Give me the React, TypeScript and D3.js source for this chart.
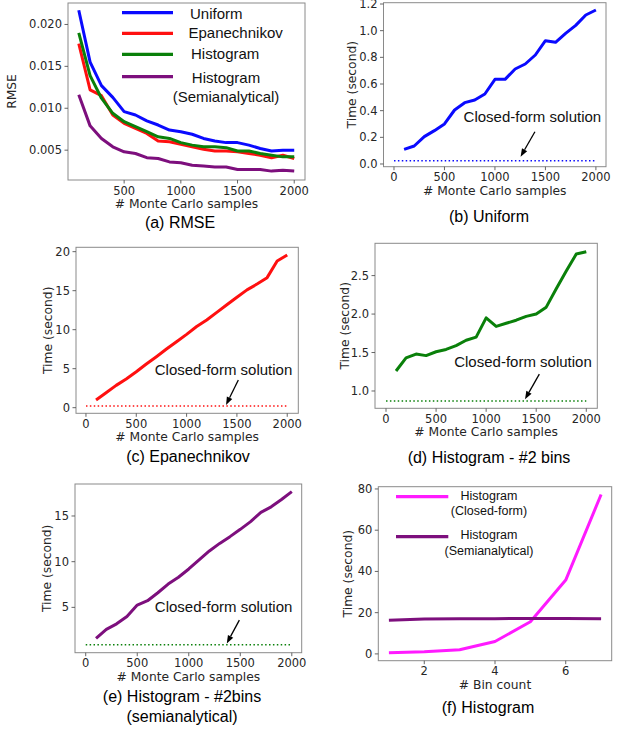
import React from "react";
import * as d3 from "d3";

// ---------- data ----------
const mcSamples = [100, 200, 300, 400, 500, 600, 700, 800, 900, 1000, 1100, 1200, 1300, 1400, 1500, 1600, 1700, 1800, 1900, 2000];
const closedRange = [0, 2000];

const rmseUniform = [0.0217, 0.0155, 0.0127, 0.0113, 0.0096, 0.0092, 0.0085, 0.008, 0.0074, 0.0072, 0.0069, 0.0064, 0.0061, 0.0059, 0.0059, 0.0056, 0.0052, 0.0049, 0.005, 0.005];
const rmseEpan = [0.0177, 0.0122, 0.0115, 0.0092, 0.0082, 0.0076, 0.007, 0.0061, 0.006, 0.0057, 0.0054, 0.0051, 0.0049, 0.0049, 0.0048, 0.0046, 0.0044, 0.0041, 0.0044, 0.004];
const rmseHist = [0.019, 0.0139, 0.0112, 0.0094, 0.0084, 0.0078, 0.0072, 0.0066, 0.0064, 0.0059, 0.0056, 0.0054, 0.0054, 0.0053, 0.0049, 0.0049, 0.0046, 0.0044, 0.0042, 0.0042];
const rmseSemi = [0.0116, 0.0079, 0.0064, 0.0054, 0.0048, 0.0046, 0.0041, 0.004, 0.0036, 0.0035, 0.0032, 0.0031, 0.003, 0.003, 0.0027, 0.0027, 0.0027, 0.0025, 0.0026, 0.0025];

const timeUniform = [0.11, 0.135, 0.205, 0.25, 0.3, 0.405, 0.46, 0.48, 0.525, 0.635, 0.635, 0.7125, 0.75, 0.8175, 0.925, 0.9125, 0.98, 1.04, 1.1175, 1.155];
const timeEpan = [0.98, 1.92, 2.86, 3.68, 4.6, 5.6, 6.54, 7.52, 8.46, 9.4, 10.4, 11.24, 12.22, 13.2, 14.15, 15.1, 15.85, 16.67, 18.8, 19.57];
const timeHist = [1.26, 1.43, 1.48, 1.46, 1.51, 1.54, 1.59, 1.66, 1.7, 1.95, 1.84, 1.88, 1.92, 1.97, 2.0, 2.09, 2.33, 2.56, 2.78, 2.81];
const timeHistSemi = [1.6, 2.6, 3.2, 4.0, 5.25, 5.73, 6.6, 7.55, 8.3, 9.2, 10.2, 11.17, 12.0, 12.74, 13.54, 14.38, 15.4, 16.0, 16.8, 17.66];

const closedUniform = 0.025;
const closedEpan = 0.2;
const closedHist = 0.87;
const closedHistSemi = 0.9;

const binCounts = [1, 2, 3, 4, 5, 6, 7];
const binTimeClosed = [0.5, 1.0, 2.0, 6.0, 15.6, 35.8, 77.3];
const binTimeSemi = [16.3, 16.9, 17.0, 17.1, 17.2, 17.2, 17.1];

const mcTicks = [500, 1000, 1500, 2000];
const mcTicks0 = [0, 500, 1000, 1500, 2000];
const rmseTicks = [0.005, 0.01, 0.015, 0.02];
const uniTicks = [0, 0.2, 0.4, 0.6, 0.8, 1.0, 1.2];
const epanTicks = [0, 5, 10, 15, 20];
const histTicks = [1.0, 1.5, 2.0, 2.5];
const semiTicks = [5, 10, 15];
const binYTicks = [0, 20, 40, 60, 80];
const binXTicks = [2, 4, 6];

// ---------- styles ----------
const TICK_FONT = "'DejaVu Sans', sans-serif";
const SANS = "'Liberation Sans', Arial, sans-serif";
const TEXT_COLOR = "#262626";

type Series = { x: number[]; y: number[]; color: string; width: number; dotted?: boolean };
type Legend = { color: string; lineX: [number, number]; lineY: number; texts: { t: string; x: number; y: number; anchor: string }[] };
type Annot = { tip: [number, number]; tail: [number, number]; text: [number, number] };

type PanelSpec = {
  id: string;
  frame: { l: number; r: number; t: number; b: number };
  xDomain: [number, number];
  yDomain: [number, number];
  xTicks: number[];
  yTicks: number[];
  yFmt: (v: number) => string;
  xFmt: (v: number) => string;
  ylabel: string;
  ylabelDx: number;
  xlabel: string;
  caption: { t: string; x: number; y: number }[];
  series: Series[];
  legend?: { size: number; items: Legend[] };
  annot?: Annot;
};

const Panel = ({ p }: { p: PanelSpec }) => {
  const { l, r, t, b } = p.frame;
  const x = d3.scaleLinear().domain(p.xDomain).range([l, r]);
  const y = d3.scaleLinear().domain(p.yDomain).range([b, t]);
  const line = d3
    .line<[number, number]>()
    .x((d) => x(d[0]))
    .y((d) => y(d[1]));
  const clipId = "clip-" + p.id;
  let arrow = null;
  if (p.annot) {
    const tx = x(p.annot.tip[0]);
    const ty = y(p.annot.tip[1]);
    const sx = x(p.annot.tail[0]);
    const sy = y(p.annot.tail[1]);
    const ang = Math.atan2(ty - sy, tx - sx);
    const hl = 8;
    const hw = 3;
    const bx = tx - hl * Math.cos(ang);
    const by = ty - hl * Math.sin(ang);
    const px = -Math.sin(ang) * hw;
    const py = Math.cos(ang) * hw;
    arrow = (
      <g>
        <line x1={sx} y1={sy} x2={bx} y2={by} stroke="#000" strokeWidth={1.3} />
        <path d={`M${tx},${ty}L${bx + px},${by + py}L${bx - px},${by - py}Z`} fill="#000" />
        <text x={x(p.annot.text[0])} y={y(p.annot.text[1])} textAnchor="middle" fontFamily={SANS} fontSize={15} fill="#111">
          Closed-form solution
        </text>
      </g>
    );
  }
  return (
    <g>
      <defs>
        <clipPath id={clipId}>
          <rect x={l} y={t} width={r - l} height={b - t} />
        </clipPath>
      </defs>
      <g clipPath={`url(#${clipId})`}>
        {p.series.map((s, i) => (
          <path
            key={i}
            d={line(s.x.map((v, j) => [v, s.y[j]] as [number, number])) || ""}
            fill="none"
            stroke={s.color}
            strokeWidth={s.width}
            strokeDasharray={s.dotted ? "1.5 2.4" : undefined}
            strokeLinejoin="round"
          />
        ))}
      </g>
      <rect x={l} y={t} width={r - l} height={b - t} fill="none" stroke="#8a8a8a" strokeWidth={1} />
      {p.yTicks.map((v) => (
        <g key={"y" + v}>
          <line x1={l - 3.5} x2={l} y1={y(v)} y2={y(v)} stroke="#555" strokeWidth={0.9} />
          <text x={l - 6} y={y(v) + 4} textAnchor="end" fontFamily={TICK_FONT} fontSize={11.5} fill={TEXT_COLOR}>
            {p.yFmt(v)}
          </text>
        </g>
      ))}
      {p.xTicks.map((v) => (
        <g key={"x" + v}>
          <line x1={x(v)} x2={x(v)} y1={b} y2={b + 3.5} stroke="#555" strokeWidth={0.9} />
          <text x={x(v)} y={b + 14.5} textAnchor="middle" fontFamily={TICK_FONT} fontSize={11.5} fill={TEXT_COLOR}>
            {p.xFmt(v)}
          </text>
        </g>
      ))}
      <text
        transform={`translate(${l - p.ylabelDx},${(t + b) / 2}) rotate(-90)`}
        textAnchor="middle"
        dominantBaseline="central"
        fontFamily={TICK_FONT}
        fontSize={12.3}
        fill={TEXT_COLOR}
      >
        {p.ylabel}
      </text>
      <text x={(l + r) / 2} y={b + 28} textAnchor="middle" fontFamily={TICK_FONT} fontSize={12.3} fill={TEXT_COLOR}>
        {p.xlabel}
      </text>
      {p.caption.map((c, i) => (
        <text key={i} x={c.x} y={c.y} textAnchor="middle" fontFamily={SANS} fontSize={16} fill="#000">
          {c.t}
        </text>
      ))}
      {p.legend &&
        p.legend.items.map((it, i) => (
          <g key={"lg" + i}>
            <line x1={it.lineX[0]} x2={it.lineX[1]} y1={it.lineY} y2={it.lineY} stroke={it.color} strokeWidth={3.2} />
            {it.texts.map((tt, k) => (
              <text key={k} x={tt.x} y={tt.y} textAnchor={tt.anchor as any} fontFamily={SANS} fontSize={p.legend!.size} fill="#111">
                {tt.t}
              </text>
            ))}
          </g>
        ))}
      {arrow}
    </g>
  );
};

const f3 = (v: number) => v.toFixed(3);
const f1 = (v: number) => v.toFixed(1);
const f0 = (v: number) => String(v);

const panels: PanelSpec[] = [
  {
    id: "a",
    frame: { l: 68, r: 305, t: 3, b: 180 },
    xDomain: [5, 2095],
    yDomain: [0.00144, 0.02256],
    xTicks: mcTicks,
    yTicks: rmseTicks,
    yFmt: f3,
    xFmt: f0,
    ylabel: "RMSE",
    ylabelDx: 56,
    xlabel: "# Monte Carlo samples",
    caption: [{ t: "(a) RMSE", x: 180, y: 228 }],
    series: [
      { x: mcSamples, y: rmseUniform, color: "#0a0aff", width: 3 },
      { x: mcSamples, y: rmseEpan, color: "#ff1010", width: 3 },
      { x: mcSamples, y: rmseHist, color: "#0a800a", width: 3 },
      { x: mcSamples, y: rmseSemi, color: "#7d0f7d", width: 3 },
    ],
    legend: {
      size: 15,
      items: [
        { color: "#0a0aff", lineX: [122, 173], lineY: 12.7, texts: [{ t: "Uniform", x: 190, y: 18.5, anchor: "start" }] },
        { color: "#ff1010", lineX: [122, 173], lineY: 33.3, texts: [{ t: "Epanechnikov", x: 188.5, y: 37.8, anchor: "start" }] },
        { color: "#0a800a", lineX: [122, 173], lineY: 54.3, texts: [{ t: "Histogram", x: 191, y: 59.2, anchor: "start" }] },
        {
          color: "#7d0f7d",
          lineX: [122, 173],
          lineY: 76.7,
          texts: [
            { t: "Histogram", x: 226, y: 82.5, anchor: "middle" },
            { t: "(Semianalytical)", x: 226, y: 102, anchor: "middle" },
          ],
        },
      ],
    },
  },
  {
    id: "b",
    frame: { l: 383.5, r: 606, t: 2.7, b: 166.7 },
    xDomain: [-104, 2100],
    yDomain: [-0.0203, 1.2098],
    xTicks: mcTicks0,
    yTicks: uniTicks,
    yFmt: f1,
    xFmt: f0,
    ylabel: "Time (second)",
    ylabelDx: 32,
    xlabel: "# Monte Carlo samples",
    caption: [{ t: "(b) Uniform", x: 489, y: 222 }],
    series: [
      { x: mcSamples, y: timeUniform, color: "#0a0aff", width: 3 },
      { x: closedRange, y: [closedUniform, closedUniform], color: "#0a0aff", width: 1.5, dotted: true },
    ],
    annot: { tip: [1254, 0.055], tail: [1396, 0.242], text: [1371, 0.315] },
  },
  {
    id: "c",
    frame: { l: 76, r: 298.3, t: 247.3, b: 413.3 },
    xDomain: [-99, 2110],
    yDomain: [-0.72, 20.56],
    xTicks: mcTicks0,
    yTicks: epanTicks,
    yFmt: f0,
    xFmt: f0,
    ylabel: "Time (second)",
    ylabelDx: 28.5,
    xlabel: "# Monte Carlo samples",
    caption: [{ t: "(c) Epanechnikov", x: 188, y: 462 }],
    series: [
      { x: mcSamples, y: timeEpan, color: "#ff1010", width: 3 },
      { x: closedRange, y: [closedEpan, closedEpan], color: "#ff1010", width: 1.5, dotted: true },
    ],
    annot: { tip: [1392, 0.35], tail: [1514, 3.55], text: [1367, 4.19] },
  },
  {
    id: "d",
    frame: { l: 375, r: 597.3, t: 243.3, b: 408.3 },
    xDomain: [-110, 2110],
    yDomain: [0.775, 2.92],
    xTicks: mcTicks0,
    yTicks: histTicks,
    yFmt: f1,
    xFmt: f0,
    ylabel: "Time (second)",
    ylabelDx: 30,
    xlabel: "# Monte Carlo samples",
    caption: [{ t: "(d) Histogram - #2 bins", x: 489, y: 463 }],
    series: [
      { x: mcSamples, y: timeHist, color: "#0a800a", width: 3 },
      { x: closedRange, y: [closedHist, closedHist], color: "#0a800a", width: 1.5, dotted: true },
    ],
    annot: { tip: [1388, 0.892], tail: [1531, 1.22], text: [1368, 1.31] },
  },
  {
    id: "e",
    frame: { l: 75, r: 301.7, t: 484, b: 652.7 },
    xDomain: [-104, 2096],
    yDomain: [0.04, 18.5],
    xTicks: mcTicks0,
    yTicks: semiTicks,
    yFmt: f0,
    xFmt: f0,
    ylabel: "Time (second)",
    ylabelDx: 28.5,
    xlabel: "# Monte Carlo samples",
    caption: [
      { t: "(e) Histogram - #2bins", x: 182, y: 702 },
      { t: "(semianalytical)", x: 182, y: 722 },
    ],
    series: [
      { x: mcSamples, y: timeHistSemi, color: "#7d0f7d", width: 3 },
      { x: closedRange, y: [closedHistSemi, closedHistSemi], color: "#0a800a", width: 1.5, dotted: true },
    ],
    annot: { tip: [1369, 1.06], tail: [1491, 3.61], text: [1338, 4.49] },
  },
  {
    id: "f",
    frame: { l: 378.3, r: 611.7, t: 486.7, b: 660.7 },
    xDomain: [0.7, 7.3],
    yDomain: [-3.3, 81.1],
    xTicks: binXTicks,
    yTicks: binYTicks,
    yFmt: f0,
    xFmt: f0,
    ylabel: "Time (second)",
    ylabelDx: 30,
    xlabel: "# Bin count",
    caption: [{ t: "(f) Histogram", x: 488, y: 713 }],
    series: [
      { x: binCounts, y: binTimeClosed, color: "#ff1aff", width: 3 },
      { x: binCounts, y: binTimeSemi, color: "#7d0f7d", width: 3 },
    ],
    legend: {
      size: 12.5,
      items: [
        {
          color: "#ff1aff",
          lineX: [396, 448.3],
          lineY: 496.7,
          texts: [
            { t: "Histogram", x: 489, y: 499.5, anchor: "middle" },
            { t: "(Closed-form)", x: 489, y: 514.5, anchor: "middle" },
          ],
        },
        {
          color: "#7d0f7d",
          lineX: [396, 448.3],
          lineY: 536.7,
          texts: [
            { t: "Histogram", x: 489, y: 538.5, anchor: "middle" },
            { t: "(Semianalytical)", x: 489, y: 554.5, anchor: "middle" },
          ],
        },
      ],
    },
  },
];

export default function App() {
  return (
    <svg
      width={625}
      height={729}
      viewBox="0 0 625 729"
      style={{ position: "absolute", left: 0, top: 0, background: "#fff" }}
    >
      <rect x={0} y={0} width={625} height={729} fill="#fff" />
      {panels.map((p) => (
        <Panel key={p.id} p={p} />
      ))}
    </svg>
  );
}
